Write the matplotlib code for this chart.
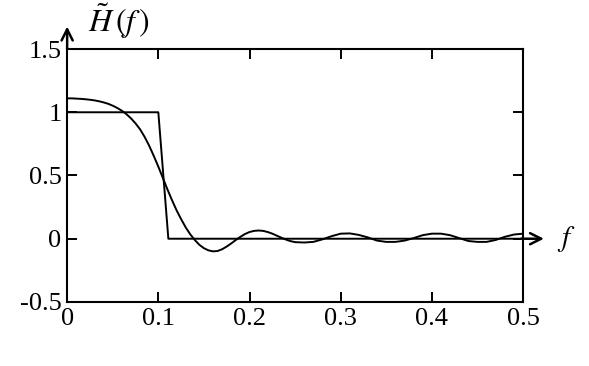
import numpy as np
import matplotlib.pyplot as plt

plt.rcParams['font.family'] = ['Liberation Serif', 'DejaVu Serif']
plt.rcParams['mathtext.fontset'] = 'stix'

# ideal lowpass response
f_ideal = [0.0, 0.1, 0.111, 0.5]
h_ideal = [1.0, 1.0, 0.0, 0.0]

# truncated response with ripple
f_trunc = [0.000, 0.005, 0.010, 0.015, 0.020, 0.025, 0.030, 0.035, 0.040, 0.045,
           0.050, 0.055, 0.060, 0.065, 0.070, 0.075, 0.080, 0.085, 0.090, 0.095,
           0.100, 0.105, 0.110, 0.115, 0.120, 0.125, 0.130, 0.135, 0.140, 0.145,
           0.150, 0.155, 0.160, 0.165, 0.170, 0.175, 0.180, 0.185, 0.190, 0.195,
           0.200, 0.205, 0.210, 0.215, 0.220, 0.225, 0.230, 0.235, 0.240, 0.245,
           0.250, 0.26, 0.27, 0.28, 0.29,
           0.30, 0.31, 0.32, 0.33, 0.34, 0.35, 0.36, 0.37, 0.38, 0.39,
           0.40, 0.41, 0.42, 0.43, 0.44, 0.45, 0.46, 0.47, 0.48, 0.49, 0.50]
h_trunc = [1.110, 1.110, 1.108, 1.106, 1.103, 1.099, 1.094, 1.087, 1.078, 1.067,
           1.052, 1.034, 1.012, 0.985, 0.952, 0.912, 0.865, 0.805, 0.735, 0.655,
           0.570, 0.480, 0.390, 0.305, 0.225, 0.155, 0.090, 0.035, -0.010, -0.048,
           -0.075, -0.092, -0.100, -0.097, -0.083, -0.062, -0.037, -0.010, 0.015, 0.037,
           0.053, 0.062, 0.065, 0.062, 0.053, 0.040, 0.024, 0.008, -0.007, -0.019,
           -0.027, -0.03, -0.025, -0.005, 0.02,
           0.04, 0.042, 0.03, 0.01, -0.015, -0.025, -0.025, -0.015, 0.005, 0.028,
           0.04, 0.04, 0.028, 0.005, -0.018, -0.025, -0.025, -0.01, 0.015, 0.033, 0.04]

xticks = [0, 0.1, 0.2, 0.3, 0.4, 0.5]
xlabels = ['0', '0.1', '0.2', '0.3', '0.4', '0.5']
yticks = [-0.5, 0, 0.5, 1, 1.5]
ylabels = ['-0.5', '0', '0.5', '1', '1.5']

fig = plt.figure(figsize=(5.89, 3.66), dpi=100)
ax = fig.add_axes([0.114, 0.175, 0.774, 0.691])

ax.plot(f_ideal, h_ideal, color='black', lw=1.4)
ax.plot(f_trunc, h_trunc, color='black', lw=1.4)

ax.set_xlim(0, 0.5)
ax.set_ylim(-0.5, 1.5)
ax.set_xticks(xticks)
ax.set_xticklabels(xlabels)
ax.set_yticks(yticks)
ax.set_yticklabels(ylabels)
ax.tick_params(direction='in', length=7, width=1.4, labelsize=19,
               top=True, right=True, pad=4)
for s in ax.spines.values():
    s.set_linewidth(1.5)

# axis arrows
ax.annotate('', xy=(0, 1.10), xycoords='axes fraction', xytext=(0, 0.99),
            arrowprops=dict(arrowstyle='->', lw=1.8, mutation_scale=20))
ax.annotate('', xy=(1.052, 0), xycoords=('axes fraction', 'data'),
            xytext=(0.99, 0), textcoords=('axes fraction', 'data'),
            arrowprops=dict(arrowstyle='->', lw=1.8, mutation_scale=20))
ax.text(1.075, 0, r'$f$', transform=ax.get_yaxis_transform(),
        fontsize=21, va='center', ha='left')
ax.text(0.045, 1.03, r'$\tilde{H}\,(f\,)$', transform=ax.transAxes,
        fontsize=23, va='bottom', ha='left')

fig.savefig('out.png', dpi=100)
